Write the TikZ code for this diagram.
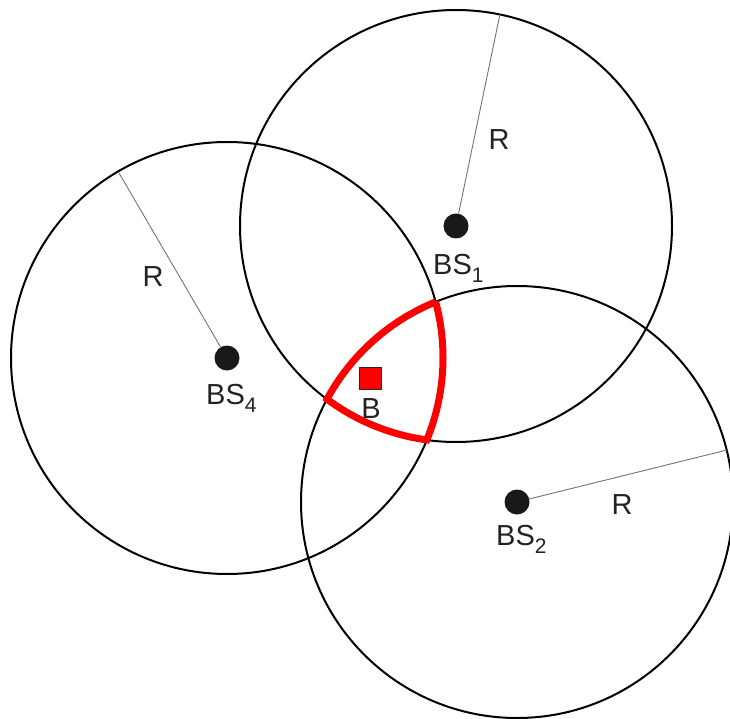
\documentclass[tikz,border=0pt]{standalone}
\usepackage{fontspec}
\setmainfont{Liberation Sans}
\usepackage{tikz}
\usetikzlibrary{positioning}
\definecolor{CellRed}{RGB}{255, 0, 0}
\definecolor{LabelGray}{RGB}{34, 34, 34}

\tikzset{
  station/.style={circle, fill=black!90, minimum size=25, inner sep=0pt},
  cellrange/.style={black, line width=2},
  radiusline/.style={black!55, line width=0.9},
  overlap/.style={CellRed, line width=7, line join=miter, miter limit=2},
  target/.style={draw=black!85, fill=CellRed, line width=0.8, minimum size=22, inner sep=0pt},
  lbl/.style={text=LabelGray, font=\fontsize{29}{32}\selectfont, inner sep=0pt}
}
\newcommand{\bsname}[1]{BS\raisebox{-8pt}{\fontsize{21}{22}\selectfont #1}}

\begin{document}
\begin{tikzpicture}[x=1pt,y=-1pt]
  \path[use as bounding box] (0,0) rectangle (730,719);

  \node[station] (bs1) at (456,226) {};
  \node[station] (bs2) at (517,502) {};
  \node[station] (bs4) at (227,358) {};

  \draw[cellrange] (bs1.center) circle[radius=216];
  \draw[cellrange] (bs4.center) circle[radius=216];
  \draw[cellrange] (bs2.center) circle[radius=216];

  \coordinate (r1) at (500,14);
  \coordinate (r2) at (727,450);
  \coordinate (r4) at (119,173);
  \draw[radiusline] (bs1) -- (r1);
  \draw[radiusline] (bs2) -- (r2);
  \draw[radiusline] (bs4) -- (r4);

  % common coverage of the three cells
  \coordinate (ovtop) at (435.6,301.9);
  \draw[overlap] (ovtop)
    arc[start angle=247.87, end angle=208.43, radius=216]
    arc[start angle=126.66, end angle=97.77, radius=216]
    arc[start angle=22.34, end angle=-15.05, radius=216] -- cycle;

  \node[target] (blk) at (370,378) {};
  \node[lbl] (blbl) at (371,409) {B};

  \node[lbl, anchor=base west] (bs1lbl) at (433,274) {\bsname{1}};
  \node[lbl, anchor=base west] (bs2lbl) at (496,545) {\bsname{2}};
  \node[lbl, anchor=base west] (bs4lbl) at (206,404) {\bsname{4}};

  \node[lbl] (rlbl1) at (499,140) {R};
  \node[lbl] (rlbl2) at (622,505) {R};
  \node[lbl] (rlbl4) at (153,277) {R};
\end{tikzpicture}
\end{document}
